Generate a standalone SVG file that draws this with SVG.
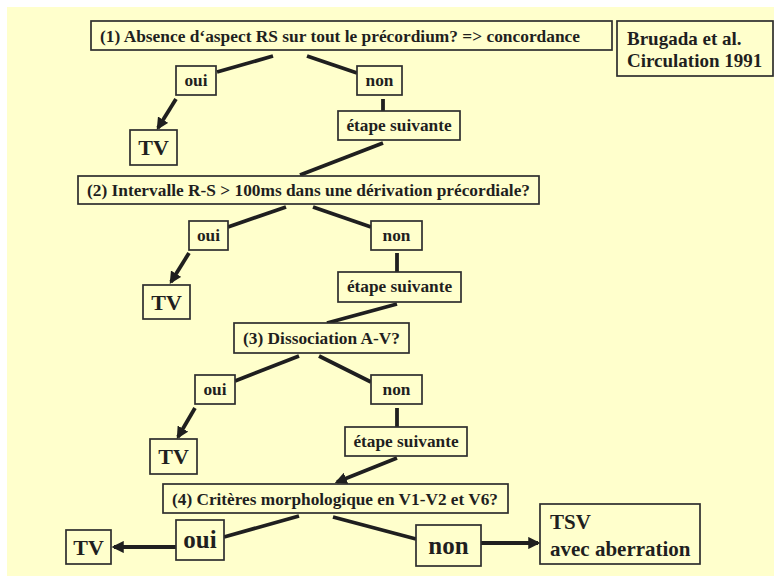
<svg xmlns="http://www.w3.org/2000/svg" width="774" height="577" viewBox="0 0 774 577">
  <style>
    .box { fill: #FFFFCC; stroke: #2e2e2e; stroke-width: 1.7; }
    .t { font-family: 'Liberation Serif', 'Times New Roman', 'DejaVu Serif', serif; font-weight: 700; fill: #1f1f1f; }
    .q { font-size: 17.3px; }
    .lbl { font-size: 17.3px; text-anchor: middle; }
    .big { font-size: 22px; text-anchor: middle; }
    .big2 { font-size: 25px; text-anchor: middle; }
    .ref { font-size: 19px; }
    .conn line { stroke: #1f1f1f; stroke-width: 3.8; stroke-linecap: butt; }
    .conn .arr { marker-end: url(#head); }
  </style>
  <defs>
    <marker id="head" viewBox="0 0 10 10" refX="8" refY="5" markerWidth="3.2" markerHeight="3.2" orient="auto" markerUnits="strokeWidth">
      <path d="M0,0 L10,5 L0,10 Z" fill="#1f1f1f"/>
    </marker>
  </defs>

  <!-- page background -->
  <rect x="7" y="7" width="767" height="569" fill="#FFFFCC"/>

  <!-- connectors -->
  <g id="connectors" class="conn">
    <line x1="273" y1="56" x2="217" y2="72"/>
    <line class="arr" x1="176" y1="99" x2="158" y2="128"/>
    <line x1="307" y1="56" x2="357" y2="73"/>
    <line x1="383" y1="99" x2="383" y2="111"/>
    <line x1="383" y1="143" x2="300" y2="175"/>

    <line x1="286" y1="207" x2="228" y2="227"/>
    <line class="arr" x1="189" y1="253" x2="171" y2="282"/>
    <line x1="313" y1="207" x2="371" y2="227"/>
    <line x1="397" y1="253" x2="397" y2="272"/>
    <line x1="397" y1="304" x2="327" y2="323"/>

    <line x1="299" y1="356" x2="235" y2="381"/>
    <line class="arr" x1="195" y1="408" x2="178" y2="437"/>
    <line x1="319" y1="356" x2="371" y2="382"/>
    <line x1="397" y1="408" x2="397" y2="427"/>
    <line class="arr" x1="397" y1="458" x2="337" y2="482"/>

    <line x1="299" y1="516" x2="224" y2="537"/>
    <line x1="333" y1="517" x2="416" y2="539"/>
    <line class="arr" x1="176" y1="547" x2="114" y2="547"/>
    <line class="arr" x1="481" y1="543" x2="538" y2="543"/>
  </g>

  <g class="t">
  <!-- step 1 -->
  <g id="q1">
    <rect class="box" x="91" y="21" width="521" height="29"/>
    <text class="q" x="100" y="42" textLength="480" lengthAdjust="spacingAndGlyphs">(1) Absence d‘aspect RS sur tout le précordium? =&gt; concordance</text>
  </g>
  <g id="ref">
    <rect class="box" x="617" y="21" width="156" height="55"/>
    <text class="ref" x="627" y="45">Brugada et al.</text>
    <text class="ref" x="627" y="67">Circulation 1991</text>
  </g>
  <g id="oui1">
    <rect class="box" x="176" y="66" width="40" height="29"/>
    <text class="lbl" x="196" y="86">oui</text>
  </g>
  <g id="non1">
    <rect class="box" x="357" y="66" width="45" height="29"/>
    <text class="lbl" x="379.5" y="86">non</text>
  </g>
  <g id="next1">
    <rect class="box" x="338" y="111" width="122" height="29"/>
    <text class="lbl" x="399" y="131">étape suivante</text>
  </g>
  <g id="tv1">
    <rect class="box" x="130" y="130" width="47" height="35"/>
    <text class="big" x="153.5" y="155">TV</text>
  </g>

  <!-- step 2 -->
  <g id="q2">
    <rect class="box" x="78" y="176" width="461" height="28"/>
    <text class="q" x="87" y="196" textLength="443" lengthAdjust="spacingAndGlyphs">(2) Intervalle R-S &gt; 100ms dans une dérivation précordiale?</text>
  </g>
  <g id="oui2">
    <rect class="box" x="189" y="221" width="39" height="29"/>
    <text class="lbl" x="208.5" y="241">oui</text>
  </g>
  <g id="non2">
    <rect class="box" x="371" y="221" width="51" height="29"/>
    <text class="lbl" x="396.5" y="241">non</text>
  </g>
  <g id="next2">
    <rect class="box" x="338" y="272" width="123" height="30"/>
    <text class="lbl" x="399.5" y="292">étape suivante</text>
  </g>
  <g id="tv2">
    <rect class="box" x="143" y="285" width="47" height="34"/>
    <text class="big" x="166.5" y="310">TV</text>
  </g>

  <!-- step 3 -->
  <g id="q3">
    <rect class="box" x="234" y="323" width="175" height="30"/>
    <text class="q" x="243" y="344" textLength="157" lengthAdjust="spacingAndGlyphs">(3) Dissociation A-V?</text>
  </g>
  <g id="oui3">
    <rect class="box" x="195" y="375" width="40" height="29"/>
    <text class="lbl" x="215" y="395">oui</text>
  </g>
  <g id="non3">
    <rect class="box" x="371" y="375" width="51" height="29"/>
    <text class="lbl" x="396.5" y="395">non</text>
  </g>
  <g id="next3">
    <rect class="box" x="345" y="427" width="122" height="29"/>
    <text class="lbl" x="406" y="447">étape suivante</text>
  </g>
  <g id="tv3">
    <rect class="box" x="150" y="439" width="47" height="35"/>
    <text class="big" x="173.5" y="464">TV</text>
  </g>

  <!-- step 4 -->
  <g id="q4">
    <rect class="box" x="163" y="484" width="345" height="29"/>
    <text class="q" x="172" y="505" textLength="326" lengthAdjust="spacingAndGlyphs">(4) Critères morphologique en V1-V2 et V6?</text>
  </g>
  <g id="oui4">
    <rect class="box" x="176" y="520" width="48" height="40"/>
    <text class="big2" x="200" y="548">oui</text>
  </g>
  <g id="tv4">
    <rect class="box" x="66" y="530" width="45" height="34"/>
    <text class="big" x="88.5" y="555">TV</text>
  </g>
  <g id="non4">
    <rect class="box" x="416" y="525" width="65" height="41"/>
    <text class="big2" x="448.5" y="554">non</text>
  </g>
  <g id="tsv">
    <rect class="box" x="540" y="504" width="160" height="60"/>
    <text x="550" y="529" style="font-size:21px">TSV</text>
    <text x="550" y="556" style="font-size:21px">avec aberration</text>
  </g>
  </g>
</svg>
